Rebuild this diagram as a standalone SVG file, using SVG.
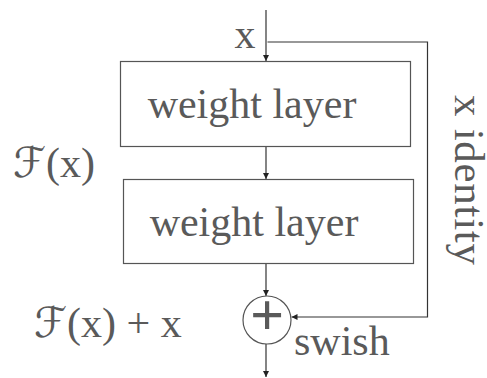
<svg xmlns="http://www.w3.org/2000/svg" width="487" height="378" viewBox="0 0 487 378">
<style>
.ln{fill:none;stroke:#333;stroke-width:1.2}
.box{fill:#fff;stroke:#555;stroke-width:1.2}
.t{font-family:"Liberation Serif","DejaVu Serif",serif;fill:#5a5a5a;font-size:42px}
.f{font-family:"DejaVu Serif","DejaVu Sans",serif;font-style:italic}
.plus{font-size:60px;font-weight:bold}
.vt{font-size:43px}
</style>
<defs>
<marker id="ah" viewBox="0 0 10 10" refX="10" refY="5" markerWidth="6" markerHeight="6" markerUnits="userSpaceOnUse" orient="auto">
<path d="M0,0 L10,5 L0,10 z" fill="#222"/>
</marker>
</defs>
<g id="connectors">
<path class="ln" d="M266,10 V61" marker-end="url(#ah)"/>
<path class="ln" d="M267.5,42 H427.5 V317 H291.5" marker-end="url(#ah)"/>
<path class="ln" d="M266,147 V179" marker-end="url(#ah)"/>
<path class="ln" d="M266,264 V296" marker-end="url(#ah)"/>
<path class="ln" d="M266,344 V377" marker-end="url(#ah)"/>
</g>
<g id="input-label"><text class="t" x="245" y="48" text-anchor="middle">x</text></g>
<g id="layer1">
<rect class="box" x="120.5" y="61.5" width="290" height="85"/>
<text class="t" x="252" y="118" text-anchor="middle">weight layer</text>
</g>
<g id="layer2">
<rect class="box" x="123.5" y="179.5" width="290" height="84"/>
<text class="t" x="254" y="236" text-anchor="middle">weight layer</text>
</g>
<g id="sum">
<circle class="box" cx="267" cy="320" r="24"/>
<text class="t plus" x="267" y="335" text-anchor="middle">+</text>
</g>
<g id="labels">
<text class="t" x="13" y="177"><tspan class="f">ℱ</tspan>(x)</text>
<text class="t" x="34" y="337"><tspan class="f">ℱ</tspan>(x) + x</text>
<text class="t" x="294" y="355">swish</text>
<text class="t vt" transform="translate(455,95) rotate(90)" textLength="170" lengthAdjust="spacing">x identity</text>
</g>
</svg>
